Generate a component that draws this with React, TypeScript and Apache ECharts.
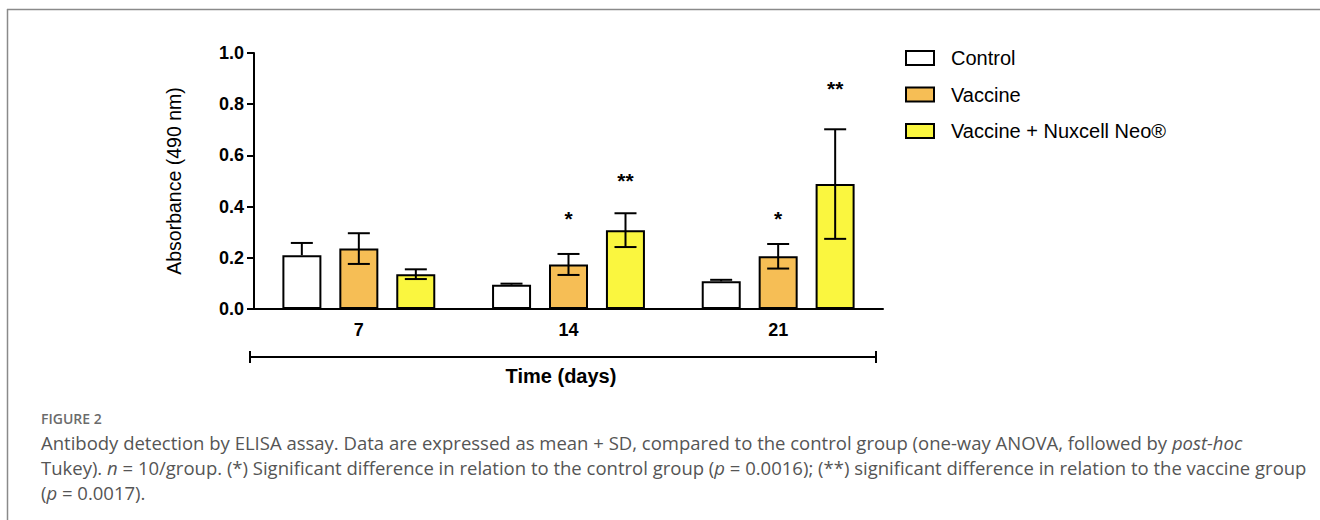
import React, { useEffect, useRef } from "react";
import * as echarts from "echarts";

const categories = ["7", "14", "21"];
const seriesNames = ["Control", "Vaccine", "Vaccine + Nuxcell Neo®"];
const controlMean = [0.21, 0.095, 0.108];
const controlSD = [0.048, 0.004, 0.006];
const vaccineMean = [0.236, 0.174, 0.206];
const vaccineSD = [0.06, 0.041, 0.048];
const comboMean = [0.136, 0.308, 0.488];
const comboSD = [0.019, 0.066, 0.214];
const vaccineStars = ["", "*", "*"];
const vaccineStarY = [0, 0.36, 0.36];
const comboStars = ["", "**", "**"];
const comboStarY = [0, 0.51, 0.868];
const yTicks = [0, 0.2, 0.4, 0.6, 0.8, 1.0];

const captionLabel = "FIGURE 2";
const captionLines = [
  "Antibody detection by ELISA assay. Data are expressed as mean + SD, compared to the control group (one-way ANOVA, followed by {i|post-hoc}",
  "Tukey). {i|n} = 10/group. (*) Significant difference in relation to the control group ({i|p} = 0.0016); (**) significant difference in relation to the vaccine group",
  "({i|p} = 0.0017).",
];

const FONT = "Liberation Sans, Arial, Helvetica, sans-serif";
const CAP_FONT = "Open Sans, Noto Sans, sans-serif";

export default function App() {
  const ref = useRef<HTMLDivElement>(null);
  useEffect(() => {
    if (!ref.current) return;
    const chart = echarts.init(ref.current, null, { renderer: "svg" });
    const colors = ["#ffffff", "#F6BE55", "#FAF63F"];
    const means = [controlMean, vaccineMean, comboMean];
    const sds = [controlSD, vaccineSD, comboSD];
    const stars = [["", "", ""], vaccineStars, comboStars];
    const starYs = [[0, 0, 0], vaccineStarY, comboStarY];
    const step = 57;
    const barSeries = seriesNames.map((name, i) => ({
      name,
      type: "bar",
      data: means[i],
      barWidth: 39,
      barGap: "46%",
      z: 2,
      itemStyle: { color: colors[i], borderColor: "#000", borderWidth: 2 },
    }));
    const errSeries = seriesNames.map((name, i) => ({
      type: "custom",
      z: 5,
      clip: false,
      silent: true,
      data: categories.map((_, k) => [k, means[i][k], sds[i][k], starYs[i][k]]),
      renderItem: (params: any, api: any) => {
        const idx = api.value(0);
        const m = api.value(1);
        const sd = api.value(2);
        const sy = api.value(3);
        const c = api.coord([idx, m]);
        const x = c[0] + (i - 1) * step;
        const top = api.coord([idx, m + sd])[1];
        const bot = api.coord([idx, m - sd])[1];
        const cap = 11;
        const st = { stroke: "#000", lineWidth: 2 };
        const children: any[] = [
          { type: "line", shape: { x1: x, y1: top, x2: x, y2: i === 0 ? c[1] : bot }, style: st },
          { type: "line", shape: { x1: x - cap, y1: top, x2: x + cap, y2: top }, style: st },
        ];
        if (i !== 0) {
          children.push({ type: "line", shape: { x1: x - cap, y1: bot, x2: x + cap, y2: bot }, style: st });
        }
        const s = stars[i][params.dataIndex];
        if (s) {
          const p = api.coord([idx, sy]);
          children.push({
            type: "text",
            x,
            y: p[1] + 2,
            style: { text: s, fill: "#000", font: `bold 21px ${FONT}`, align: "center", verticalAlign: "middle" },
          });
        }
        return { type: "group", children };
      },
    }));

    const graphics: any[] = [
      { type: "line", shape: { x1: 7, y1: 9.5, x2: 1320, y2: 9.5 }, style: { stroke: "#8a8a8a", lineWidth: 1.5 } },
      { type: "line", shape: { x1: 7.5, y1: 9, x2: 7.5, y2: 520 }, style: { stroke: "#8a8a8a", lineWidth: 1.5 } },
      { type: "line", shape: { x1: 250, y1: 357, x2: 876, y2: 357 }, style: { stroke: "#000", lineWidth: 2 } },
      { type: "line", shape: { x1: 250, y1: 351, x2: 250, y2: 363 }, style: { stroke: "#000", lineWidth: 2 } },
      { type: "line", shape: { x1: 876, y1: 351, x2: 876, y2: 363 }, style: { stroke: "#000", lineWidth: 2 } },
      {
        type: "text",
        x: 561,
        y: 376,
        style: { text: "Time (days)", font: `bold 20px ${FONT}`, fill: "#000", align: "center", verticalAlign: "middle" },
      },
      {
        type: "text",
        x: 41,
        y: 418,
        style: { text: captionLabel, font: `600 14px ${CAP_FONT}`, fill: "#6b6b6b", align: "left", verticalAlign: "middle" },
      },
    ];
    captionLines.forEach((t, k) => {
      graphics.push({
        type: "text",
        x: 41,
        y: 442 + k * 25,
        style: {
          text: t,
          font: `18.5px ${CAP_FONT}`,
          fill: "#555",
          align: "left",
          verticalAlign: "middle",
          rich: {
            i: { fontStyle: "italic", fontSize: 18.5, fontFamily: CAP_FONT, fill: "#555" },
          },
        },
      });
    });

    chart.setOption({
      animation: false,
      backgroundColor: "#fff",
      grid: { left: 254, top: 53, width: 629, height: 256, containLabel: false },
      legend: {
        orient: "vertical",
        left: 900,
        top: 43,
        itemWidth: 28,
        itemHeight: 14,
        itemGap: 16.5,
        icon: "rect",
        data: seriesNames,
        selectedMode: false,
        itemStyle: { borderColor: "#000", borderWidth: 2 },
        textStyle: { fontFamily: FONT, fontSize: 20, color: "#000", padding: [0, 0, 0, 12] },
      },
      xAxis: {
        type: "category",
        data: categories,
        axisLine: { lineStyle: { color: "#000", width: 2 } },
        axisTick: { alignWithLabel: true, length: 6, lineStyle: { color: "#000", width: 2 } },
        axisLabel: { color: "#000", fontFamily: FONT, fontWeight: "bold", fontSize: 18, margin: 12 },
      },
      yAxis: {
        type: "value",
        min: yTicks[0],
        max: yTicks[yTicks.length - 1],
        interval: 0.2,
        name: "Absorbance (490 nm)",
        nameLocation: "middle",
        nameGap: 70,
        nameTextStyle: { fontFamily: FONT, fontSize: 19.5, color: "#000" },
        splitLine: { show: false },
        axisLine: { show: true, lineStyle: { color: "#000", width: 2 } },
        axisTick: { show: true, length: 7, lineStyle: { color: "#000", width: 2 } },
        axisLabel: {
          color: "#000",
          fontFamily: FONT,
          fontWeight: "bold",
          fontSize: 18,
          margin: 10,
          formatter: (v: number) => v.toFixed(1),
        },
      },
      graphic: graphics,
      series: [...barSeries, ...errSeries],
    });
    return () => chart.dispose();
  }, []);
  return <div ref={ref} style={{ position: "fixed", left: 0, top: 0, width: 1320, height: 520 }} />;
}
